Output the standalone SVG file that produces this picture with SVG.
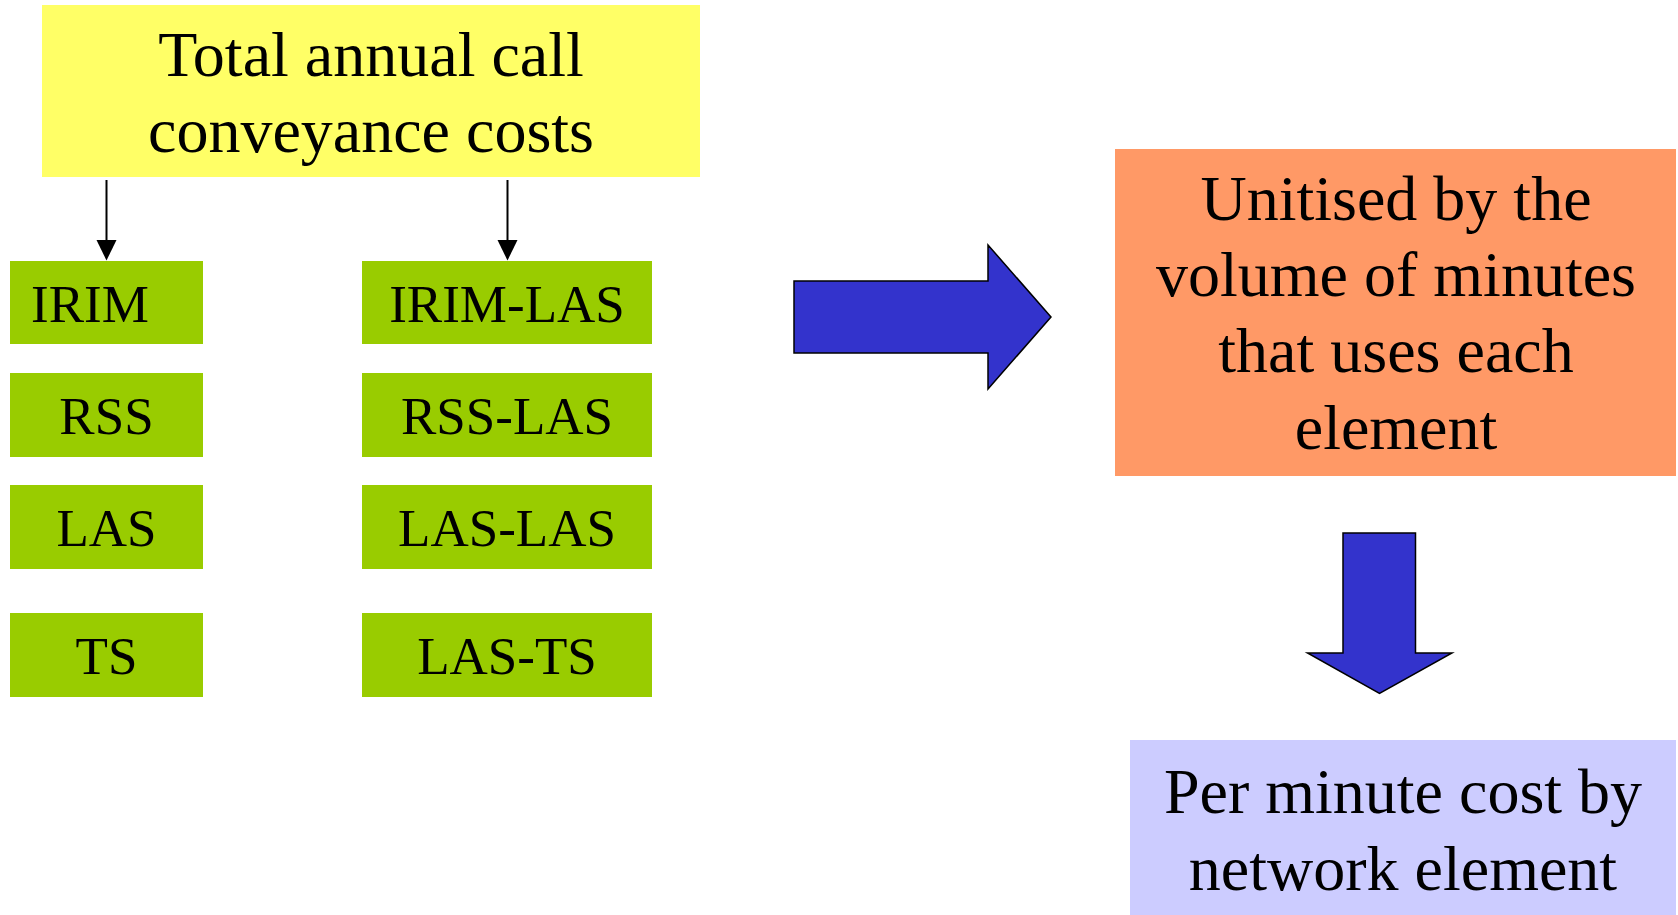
<svg xmlns="http://www.w3.org/2000/svg" width="1678" height="915" viewBox="0 0 1678 915">
  <defs>
    <style>
      .t { font-family: "Liberation Serif", "Times New Roman", serif; fill: #000; }
      .big { font-size: 64px; text-anchor: middle; }
      .el { font-size: 53px; text-anchor: middle; }
      .green { fill: #99CC00; }
      .conn { stroke: #000; stroke-width: 2; fill: none; }
      .block { fill: #3333CC; stroke: #000; stroke-width: 1.5; stroke-linejoin: miter; }
    </style>
  </defs>

  <rect width="1678" height="915" fill="#fff"/>

  <g id="total-costs">
    <rect x="42" y="5" width="658" height="172" fill="#FFFF66"/>
    <text class="t big" x="371" y="76">Total annual call</text>
    <text class="t big" x="371" y="152">conveyance costs</text>
  </g>

  <g id="connectors">
    <line class="conn" x1="106.5" y1="180" x2="106.5" y2="241"/>
    <path d="M96.5,240 L116.5,240 L106.5,260.5 Z" fill="#000"/>
    <line class="conn" x1="507.5" y1="180" x2="507.5" y2="241"/>
    <path d="M497.5,240 L517.5,240 L507.5,260.5 Z" fill="#000"/>
  </g>

  <g id="irim">
    <rect class="green" x="10" y="261" width="193" height="83"/>
    <text class="t" x="31" y="322" font-size="53">IRIM</text>
  </g>
  <g id="rss">
    <rect class="green" x="10" y="373" width="193" height="84"/>
    <text class="t el" x="106.5" y="434">RSS</text>
  </g>
  <g id="las">
    <rect class="green" x="10" y="485" width="193" height="84"/>
    <text class="t el" x="106.5" y="546">LAS</text>
  </g>
  <g id="ts">
    <rect class="green" x="10" y="613" width="193" height="84"/>
    <text class="t el" x="106.5" y="674">TS</text>
  </g>

  <g id="irim-las">
    <rect class="green" x="362" y="261" width="290" height="83"/>
    <text class="t el" x="507" y="322">IRIM-LAS</text>
  </g>
  <g id="rss-las">
    <rect class="green" x="362" y="373" width="290" height="84"/>
    <text class="t el" x="507" y="434">RSS-LAS</text>
  </g>
  <g id="las-las">
    <rect class="green" x="362" y="485" width="290" height="84"/>
    <text class="t el" x="507" y="546">LAS-LAS</text>
  </g>
  <g id="las-ts">
    <rect class="green" x="362" y="613" width="290" height="84"/>
    <text class="t el" x="507" y="674">LAS-TS</text>
  </g>

  <g id="block-arrow-right">
    <path class="block" d="M794,281 L988,281 L988,245 L1051,317 L988,389 L988,353 L794,353 Z"/>
  </g>

  <g id="unitised">
    <rect x="1115" y="149" width="561" height="327" fill="#FF9966"/>
    <text class="t big" x="1396" y="220">Unitised by the</text>
    <text class="t big" x="1396" y="296">volume of minutes</text>
    <text class="t big" x="1396" y="372">that uses each</text>
    <text class="t big" x="1396" y="449">element</text>
  </g>

  <g id="block-arrow-down">
    <path class="block" d="M1343,533 L1415.5,533 L1415.5,653 L1452,653 L1379.5,693.5 L1307.5,653 L1343,653 Z"/>
  </g>

  <g id="per-minute">
    <rect x="1130" y="740" width="546" height="175" fill="#CCCCFF"/>
    <text class="t big" x="1403" y="813">Per minute cost by</text>
    <text class="t big" x="1403" y="890">network element</text>
  </g>
</svg>
